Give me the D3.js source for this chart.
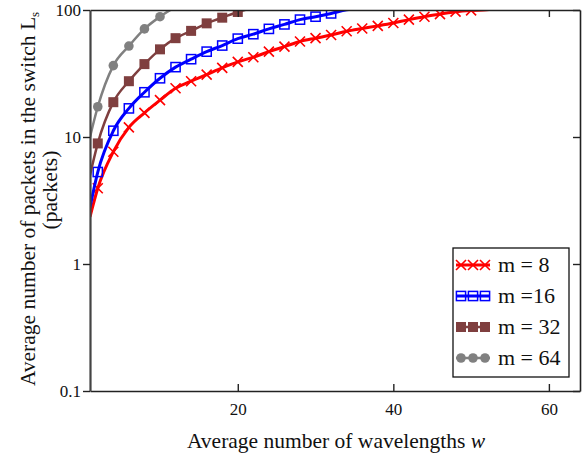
<!DOCTYPE html>
<html>
<head>
<meta charset="utf-8">
<script src="https://cdn.jsdelivr.net/npm/d3@7"></script>
<style>
  html, body { margin: 0; padding: 0; background: #fff; }
  svg { display: block; }
  text { font-family: "Liberation Serif", "Times New Roman", serif; fill: #111; }
</style>
</head>
<body>
<svg id="chart" width="582" height="459"></svg>
<script>
// ---- data ----
const xTicks = [20, 40, 60];
const yTicks = [0.1, 1, 10, 100];
const yTickLabels = ["0.1", "1", "10", "100"];

const wRed = [1, 2, 4, 6, 8, 10, 12, 14, 16, 18, 20, 22, 24, 26, 28, 30, 32, 34, 36, 38, 40, 42, 44, 46, 48, 50, 52, 54];
const vRed = [2.35, 3.95, 7.65, 11.9, 15.5, 19.5, 24.2, 27.5, 31, 35, 39, 42.5, 47, 51.5, 56.5, 60, 63.5, 68, 71.5, 75, 79, 84, 88.5, 92.7, 97, 99.3, 100.3, 104];

const wBlue = [1, 2, 4, 6, 8, 10, 12, 14, 16, 18, 20, 22, 24, 26, 28, 30, 32, 34, 36];
const vBlue = [2.8, 5.3, 11.2, 16.8, 22.5, 29, 35.5, 41, 47, 52.5, 59.5, 64.5, 71, 77, 84, 88.6, 94, 100.2, 104];

const wBrown = [1, 2, 4, 6, 8, 10, 12, 14, 16, 18, 20, 22];
const vBrown = [5, 8.9, 18.8, 27.5, 37.5, 49, 60, 68.5, 78.5, 87, 96.5, 104];

const wGray = [1, 2, 4, 6, 8, 10, 12];
const vGray = [10, 17.3, 36.5, 52, 71, 88.6, 106];

const seriesNames = ["m = 8", "m =16", "m = 32", "m = 64"];

const series = [
  { name: seriesNames[0], w: wRed,   v: vRed,   color: "#ff0000", marker: "x",      width: 3 },
  { name: seriesNames[1], w: wBlue,  v: vBlue,  color: "#0000ff", marker: "square", width: 3 },
  { name: seriesNames[2], w: wBrown, v: vBrown, color: "#7f3f3f", marker: "fsquare",width: 2.5 },
  { name: seriesNames[3], w: wGray,  v: vGray,  color: "#808080", marker: "circle", width: 2.5 }
];

// ---- layout ----
const svg = d3.select("#chart");
const L = 90, R = 580, T = 10, B = 391;

const x = d3.scaleLinear().domain([1, 64]).range([L, R]);
const y = d3.scaleLog().domain([0.1, 100]).range([B, T]);

svg.append("defs").append("clipPath").attr("id", "plotclip")
  .append("rect").attr("x", L).attr("y", T).attr("width", R - L).attr("height", B - T);

const plot = svg.append("g");
const lines = plot.append("g").attr("clip-path", "url(#plotclip)");

const line = d3.line()
  .x(d => x(d[0]))
  .y(d => y(d[1]))
  .curve(d3.curveMonotoneX);

function drawMarker(g, type, cx, cy, color) {
  if (type === "x") {
    const s = 5;
    g.append("path")
      .attr("d", `M${cx - s},${cy - s}L${cx + s},${cy + s}M${cx - s},${cy + s}L${cx + s},${cy - s}`)
      .attr("stroke", color).attr("stroke-width", 1.6).attr("fill", "none");
  } else if (type === "square") {
    const s = 4.6;
    g.append("rect").attr("x", cx - s).attr("y", cy - s).attr("width", 2 * s).attr("height", 2 * s)
      .attr("fill", "none").attr("stroke", color).attr("stroke-width", 1.5);
  } else if (type === "fsquare") {
    const s = 5;
    g.append("rect").attr("x", cx - s).attr("y", cy - s).attr("width", 2 * s).attr("height", 2 * s)
      .attr("fill", color).attr("stroke", "none");
  } else if (type === "circle") {
    g.append("circle").attr("cx", cx).attr("cy", cy).attr("r", 4.8).attr("fill", color);
  }
}

series.forEach(s => {
  const pts = s.w.map((w, i) => [w, s.v[i]]);
  lines.append("path")
    .datum(pts)
    .attr("d", line)
    .attr("fill", "none")
    .attr("stroke", s.color)
    .attr("stroke-width", s.width)
    .attr("stroke-linejoin", "round");
  const mg = lines.append("g");
  pts.forEach(p => {
    if (p[0] >= 2 && p[1] <= 100) drawMarker(mg, s.marker, x(p[0]), y(p[1]), s.color);
  });
});

// ---- axes / frame ----
const axisColor = "#222";
const xb = svg.append("g").attr("transform", `translate(0,${B})`)
  .call(d3.axisBottom(x).tickValues(xTicks).tickSizeInner(-7).tickSizeOuter(0).tickPadding(12).tickFormat(d3.format("d")));
const xt = svg.append("g").attr("transform", `translate(0,${T})`)
  .call(d3.axisTop(x).tickValues(xTicks).tickSizeInner(-7).tickSizeOuter(0).tickFormat(""));
const yl = svg.append("g").attr("transform", `translate(${L},0)`)
  .call(d3.axisLeft(y).tickValues(yTicks).tickSizeInner(7).tickSizeOuter(0).tickPadding(2)
    .tickFormat((d, i) => yTickLabels[i]));
const yr = svg.append("g").attr("transform", `translate(${R},0)`)
  .call(d3.axisRight(y).tickValues(yTicks).tickSizeInner(-7).tickSizeOuter(0).tickFormat(""));

[xb, xt, yl, yr].forEach(g => {
  g.attr("font-family", null);
  g.selectAll("path.domain").attr("stroke", axisColor).attr("stroke-width", 1.6);
  g.selectAll(".tick line").attr("stroke", axisColor).attr("stroke-width", 1.4);
  g.selectAll(".tick text").attr("fill", "#111")
    .style("font-family", '"Liberation Serif", serif').style("font-size", "17px");
});
yl.select("path.domain").attr("stroke", "#444").attr("stroke-width", 2.2);
yl.selectAll(".tick text").attr("dy", "0.35em");

// ---- legend ----
const lg = svg.append("g");
lg.append("rect").attr("x", 453).attr("y", 248).attr("width", 116).attr("height", 129)
  .attr("fill", "#fff").attr("stroke", "#111").attr("stroke-width", 1.3);
const legendY = d3.scalePoint().domain(seriesNames).range([265, 358]);
series.forEach(s => {
  const yy = legendY(s.name);
  lg.append("line").attr("x1", 456).attr("x2", 490).attr("y1", yy).attr("y2", yy)
    .attr("stroke", s.color).attr("stroke-width", s.width);
  [461, 473, 485].forEach(mx => drawMarker(lg, s.marker, mx, yy, s.color));
  lg.append("text").attr("x", 498).attr("y", yy + 7).style("font-size", "22px").text(s.name);
});

// ---- axis titles ----
const xt2 = svg.append("text").attr("x", 336).attr("y", 448).attr("text-anchor", "middle")
  .style("font-size", "21.5px");
xt2.append("tspan").text("Average number of wavelengths ");
xt2.append("tspan").style("font-style", "italic").text("w");

const yt = svg.append("text").attr("transform", "translate(35,199) rotate(-90)")
  .attr("text-anchor", "middle").style("font-size", "21.5px");
yt.append("tspan").text("Average number of packets in the switch L");
yt.append("tspan").attr("dy", "4").style("font-size", "13px").text("s");

svg.append("text").attr("transform", "translate(57,190) rotate(-90)")
  .attr("text-anchor", "middle").style("font-size", "21.5px").text("(packets)");
</script>
</body>
</html>
